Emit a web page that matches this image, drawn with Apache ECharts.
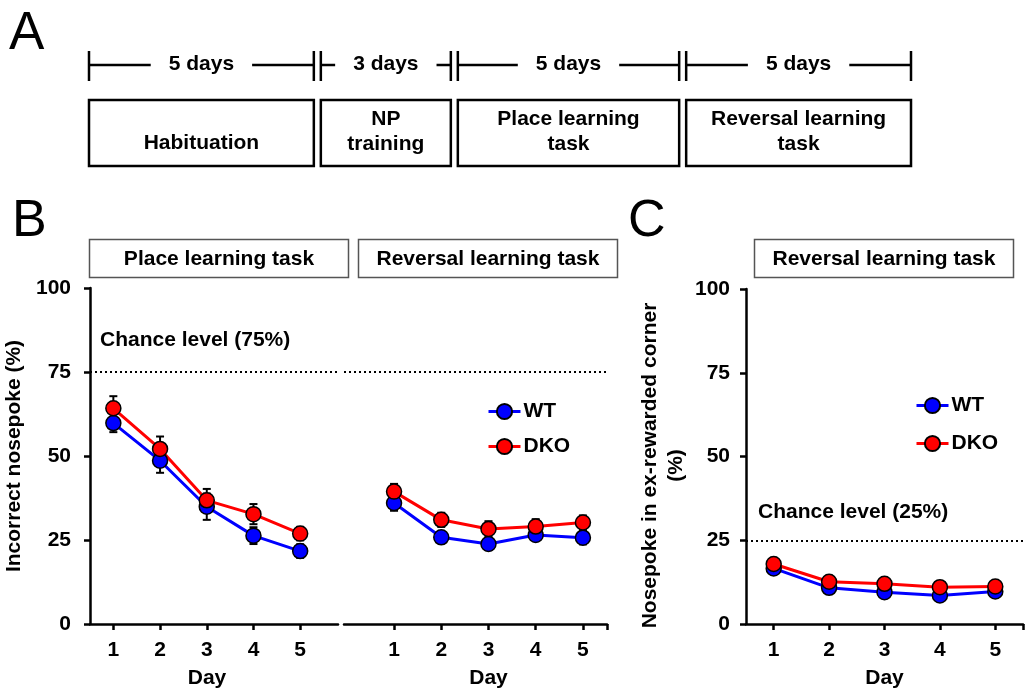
<!DOCTYPE html>
<html><head><meta charset="utf-8">
<script src="https://cdn.jsdelivr.net/npm/echarts@6/dist/echarts.min.js"></script>
<style>html,body{margin:0;padding:0;background:#fff}#c{width:1027px;height:699px}</style>
</head><body><div id="c"></div>
<script>
// ---------- data ----------
const phaseNames = ['Habituation', 'NP\ntraining', 'Place learning\ntask', 'Reversal learning\ntask'];
const phaseDays = [5, 3, 5, 5];
const phaseDayLabels = ['5 days', '3 days', '5 days', '5 days'];

const days = [1, 2, 3, 4, 5];
const placeWT = [59.8, 48.6, 34.9, 26.3, 21.7];
const placeWTErr = [2.7, 3.6, 3.9, 2.5, 2.0];
const placeDKO = [64.2, 52.1, 36.8, 32.7, 26.9];
const placeDKOErr = [3.6, 3.7, 3.4, 3.0, 2.0];
const revWT = [36.0, 25.8, 23.8, 26.5, 25.7];
const revWTErr = [2.3, 1.5, 1.8, 1.5, 2.0];
const revDKO = [39.4, 31.0, 28.3, 29.0, 30.2];
const revDKOErr = [2.3, 2.1, 2.3, 2.2, 2.1];
const cornerWT = [16.6, 10.8, 9.5, 8.5, 9.7];
const cornerWTErr = [1.5, 1.2, 1.2, 1.2, 1.2];
const cornerDKO = [17.9, 12.6, 12.0, 11.0, 11.2];
const cornerDKOErr = [1.5, 1.2, 1.2, 1.2, 1.2];
const chanceB = 75;
const chanceC = 25;
const yMin = 0, yMax = 100, yStep = 25;

// ---------- helpers ----------
const FONT = '"Liberation Sans", Arial, sans-serif';
const FS = 21;
const BLUE = '#0000ff', RED = '#ff0000';
const pts = (vals) => days.map((d, i) => [d, vals[i]]);
const errPts = (vals, errs) => days.map((d, i) => [d, vals[i], errs[i]]);

let acc = 0;
const phaseData = phaseDays.map((d, i) => { const s = acc; acc += d; return [s, acc, i]; });

function timelineRender(params, api) {
  const i = api.value(2);
  const n = phaseDays.length;
  const x0 = api.coord([api.value(0), 0])[0];
  const x1 = api.coord([api.value(1), 0])[0];
  const bx0 = x0 + (i === 0 ? 0 : 3.5);
  const bx1 = x1 - (i === n - 1 ? 0 : 3.5);
  const cx = (bx0 + bx1) / 2;
  const two = phaseNames[i].indexOf('\n') >= 0;
  const st = { stroke: '#000', lineWidth: 2.5 };
  return { type: 'group', children: [
    { type: 'line', shape: { x1: bx0, y1: 65, x2: bx1, y2: 65 }, style: st },
    { type: 'line', shape: { x1: bx0, y1: 51, x2: bx0, y2: 81 }, style: st },
    { type: 'line', shape: { x1: bx1, y1: 51, x2: bx1, y2: 81 }, style: st },
    { type: 'text', z2: 5, style: { x: cx, y: 64, text: phaseDayLabels[i], align: 'center', verticalAlign: 'middle',
      font: 'bold ' + FS + 'px ' + FONT, fill: '#000', backgroundColor: '#fff', padding: [2, 18] } },
    { type: 'rect', shape: { x: bx0, y: 100, width: bx1 - bx0, height: 66 }, style: { fill: '#fff', stroke: '#000', lineWidth: 2.5 } },
    { type: 'text', style: { x: cx, y: two ? 132 : 143, text: phaseNames[i], align: 'center', verticalAlign: 'middle',
      font: 'bold ' + FS + 'px ' + FONT, fill: '#000', lineHeight: 25 } }
  ]};
}

function errRender(params, api) {
  const x = api.value(0), v = api.value(1), e = api.value(2);
  const t = api.coord([x, v + e]), b = api.coord([x, v - e]);
  const st = { stroke: '#000', lineWidth: 2 };
  return { type: 'group', children: [
    { type: 'line', shape: { x1: t[0], y1: t[1], x2: b[0], y2: b[1] }, style: st },
    { type: 'line', shape: { x1: t[0] - 4, y1: t[1], x2: t[0] + 4, y2: t[1] }, style: st },
    { type: 'line', shape: { x1: b[0] - 4, y1: b[1], x2: b[0] + 4, y2: b[1] }, style: st }
  ]};
}

const axLine = { show: true, lineStyle: { color: '#000', width: 2.5 } };
const lbl = { color: '#000', fontSize: FS, fontWeight: 'bold', fontFamily: FONT };

function yAx(gi, show, margin, name, nameGap, padding) {
  return { type: 'value', gridIndex: gi, min: yMin, max: yMax, interval: yStep, show: show,
    axisLine: axLine, axisTick: { show: true, length: 6, lineStyle: { color: '#000', width: 2.5 } },
    axisLabel: Object.assign({ margin: margin }, lbl), splitLine: { show: false },
    name: name, nameLocation: 'middle', nameGap: nameGap, nameRotate: 90,
    nameTextStyle: Object.assign({ lineHeight: 26, padding: padding || 0 }, lbl) };
}
function xAx(gi, min, max, tickVals, padding) {
  return { type: 'value', gridIndex: gi, min: min, max: max,
    axisLine: axLine,
    axisTick: { show: true, length: 6, lineStyle: { color: '#000', width: 2.5 }, customValues: tickVals },
    axisLabel: Object.assign({ margin: 16, customValues: days, formatter: (v) => String(v) }, lbl),
    splitLine: { show: false },
    name: 'Day', nameLocation: 'middle', nameGap: 44, nameTextStyle: Object.assign({ padding: padding }, lbl) };
}

function lineSeries(name, data, color, xi, yi, mark) {
  const s = { type: 'line', name: name, data: data, xAxisIndex: xi, yAxisIndex: yi, z: 3,
    symbol: 'circle', symbolSize: 15, lineStyle: { color: color, width: 3 },
    itemStyle: { color: color, borderColor: '#000', borderWidth: 1.5 }, animation: false };
  if (mark !== undefined) {
    s.markLine = { silent: true, symbol: 'none', label: { show: false },
      lineStyle: { color: '#000', type: [2, 3], width: 2 }, data: [{ yAxis: mark }] };
  }
  return s;
}
function errSeries(data, xi, yi) {
  return { type: 'custom', data: data, xAxisIndex: xi, yAxisIndex: yi, z: 2, renderItem: errRender,
    animation: false, silent: true, encode: { x: 0, y: 1 } };
}

const legendBase = { data: ['WT', 'DKO'], orient: 'vertical', padding: 0, itemWidth: 32, itemHeight: 19,
  textStyle: Object.assign({ padding: [0, 0, 0, -2] }, lbl), selectedMode: false, lineStyle: { width: 3 } };

const chart = echarts.init(document.getElementById('c'), null, { renderer: 'canvas' });
chart.setOption({
  backgroundColor: '#fff',
  animation: false,
  textStyle: { fontFamily: FONT },
  grid: [
    { left: 89, top: 40, width: 822, height: 140 },
    { left: 88, top: 288, width: 250, height: 336 },
    { left: 344, top: 288, width: 263, height: 336 },
    { left: 746, top: 289, width: 277, height: 335 }
  ],
  xAxis: [
    { type: 'value', gridIndex: 0, min: 0, max: phaseDays.reduce((a, b) => a + b, 0), show: false },
    xAx(1, 0.5, 5.81, days, [0, 14, 0, 0]),
    xAx(2, -0.06, 5.51, days.concat([5.51]), [0, 0, 0, 26]),
    xAx(3, 0.5, 5.5, days.concat([5.5]), [0, 0, 0, 0])
  ],
  yAxis: [
    { type: 'value', gridIndex: 0, min: 0, max: 1, show: false },
    yAx(1, true, 19, 'Incorrect nosepoke (%)', 63),
    yAx(2, false, 17, '', 10),
    yAx(3, true, 16, 'Nosepoke in ex-rewarded corner\n(%)', 57, [0, 18, 0, 0])
  ],
  legend: [
    Object.assign({ left: 487, top: 401, itemGap: 14 }, legendBase),
    Object.assign({ left: 915, top: 395, itemGap: 17 }, legendBase)
  ],
  graphic: [
    { type: 'text', left: 9, top: 8, style: { text: 'A', font: '53px ' + FONT, fill: '#000' } },
    { type: 'text', left: 12, top: 196, style: { text: 'B', font: '52px ' + FONT, fill: '#000' } },
    { type: 'text', left: 628, top: 196, style: { text: 'C', font: '52px ' + FONT, fill: '#000' } },
    { type: 'rect', shape: { x: 89.5, y: 239.5, width: 259, height: 38 }, style: { fill: '#fff', stroke: '#555', lineWidth: 1.5 } },
    { type: 'rect', shape: { x: 358.5, y: 239.5, width: 259, height: 38 }, style: { fill: '#fff', stroke: '#555', lineWidth: 1.5 } },
    { type: 'rect', shape: { x: 754.5, y: 239.5, width: 259, height: 38 }, style: { fill: '#fff', stroke: '#555', lineWidth: 1.5 } },
    { type: 'text', style: { x: 219, y: 259, text: 'Place learning task', align: 'center', verticalAlign: 'middle', font: 'bold ' + FS + 'px ' + FONT, fill: '#000' } },
    { type: 'text', style: { x: 488, y: 259, text: 'Reversal learning task', align: 'center', verticalAlign: 'middle', font: 'bold ' + FS + 'px ' + FONT, fill: '#000' } },
    { type: 'text', style: { x: 884, y: 259, text: 'Reversal learning task', align: 'center', verticalAlign: 'middle', font: 'bold ' + FS + 'px ' + FONT, fill: '#000' } },
    { type: 'text', style: { x: 100, y: 340, text: 'Chance level (' + chanceB + '%)', verticalAlign: 'middle', font: 'bold ' + FS + 'px ' + FONT, fill: '#000' } },
    { type: 'text', style: { x: 758, y: 512, text: 'Chance level (' + chanceC + '%)', verticalAlign: 'middle', font: 'bold ' + FS + 'px ' + FONT, fill: '#000' } }
  ],
  series: [
    { type: 'custom', xAxisIndex: 0, yAxisIndex: 0, data: phaseData, renderItem: timelineRender, silent: true, animation: false, encode: { x: [0, 1] } },
    errSeries(errPts(placeWT, placeWTErr), 1, 1),
    errSeries(errPts(placeDKO, placeDKOErr), 1, 1),
    lineSeries('WT', pts(placeWT), BLUE, 1, 1, chanceB),
    lineSeries('DKO', pts(placeDKO), RED, 1, 1),
    errSeries(errPts(revWT, revWTErr), 2, 2),
    errSeries(errPts(revDKO, revDKOErr), 2, 2),
    lineSeries('WT', pts(revWT), BLUE, 2, 2, chanceB),
    lineSeries('DKO', pts(revDKO), RED, 2, 2),
    errSeries(errPts(cornerWT, cornerWTErr), 3, 3),
    errSeries(errPts(cornerDKO, cornerDKOErr), 3, 3),
    lineSeries('WT', pts(cornerWT), BLUE, 3, 3, chanceC),
    lineSeries('DKO', pts(cornerDKO), RED, 3, 3)
  ]
});
</script></body></html>
